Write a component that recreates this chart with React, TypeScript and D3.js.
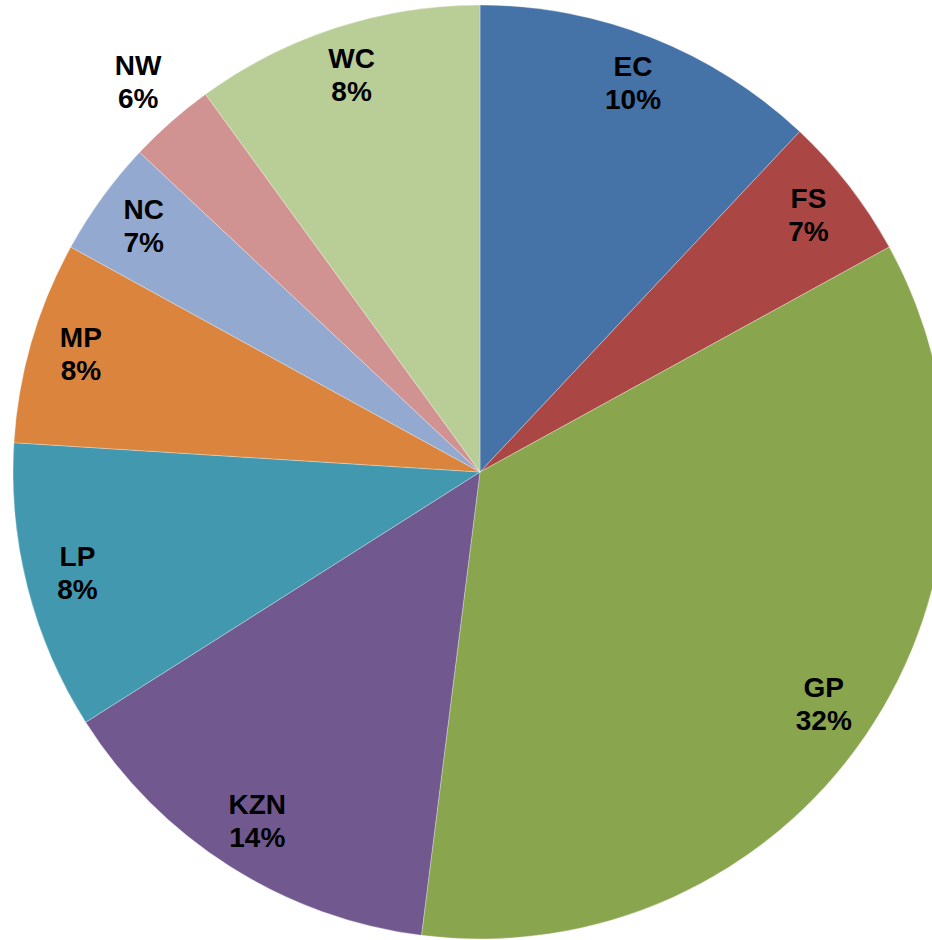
import React, { useRef, useEffect } from "react";
import * as d3 from "d3";

// provinces, slice sizes (share of the pie) and the printed label percentages
const categories = ["EC", "FS", "GP", "KZN", "LP", "MP", "NC", "NW", "WC"];
const sliceValues = [12, 5, 35, 14, 10, 7, 4, 3, 10];
const labelPercents = ["10%", "7%", "32%", "14%", "8%", "8%", "7%", "6%", "8%"];
const colors = ["#4572A7", "#AA4643", "#89A54E", "#71588F", "#4198AF", "#DB843D", "#93A9CF", "#D19392", "#B9CD96"];

const App = () => {
  const d3Ref = useRef<SVGSVGElement | null>(null);
  const width = 932;
  const height = 940;

  useEffect(() => {
    if (!d3Ref.current) return;
    const svg = d3.select(d3Ref.current);
    svg.selectAll("*").remove();

    const cx = 480;
    const cy = 472;
    const radius = 467;

    const data = categories.map((c, i) => ({ label: c, value: sliceValues[i], pct: labelPercents[i], color: colors[i] }));

    const pie = d3
      .pie<any>()
      .value((d) => d.value)
      .sort(null);

    const arc = d3.arc<any>().innerRadius(0).outerRadius(radius);

    const g = svg.append("g").attr("transform", `translate(${cx},${cy})`);

    const arcs = pie(data);

    g.selectAll(".slice")
      .data(arcs)
      .enter()
      .append("path")
      .attr("class", "slice")
      .attr("d", arc as any)
      .attr("fill", (d) => d.data.color)
      .attr("stroke", "#ffffff")
      .attr("stroke-width", 0.6)
      .attr("stroke-opacity", 0.5);

    // labels sit near the outer edge, small slices get them outside
    const labels = g
      .selectAll(".lbl")
      .data(arcs)
      .enter()
      .append("text")
      .attr("class", "lbl")
      .attr("transform", (d) => {
        const mid = (d.startAngle + d.endAngle) / 2;
        const span = ((d.endAngle - d.startAngle) * 180) / Math.PI;
        const r = span < 12 ? radius * 1.107 : radius * 0.89;
        return `translate(${Math.sin(mid) * r},${-Math.cos(mid) * r})`;
      })
      .attr("text-anchor", "middle")
      .style("font-family", "'Liberation Sans', Arial, sans-serif")
      .style("font-weight", "bold")
      .style("font-size", "28px")
      .attr("fill", "#000");

    labels
      .append("tspan")
      .attr("x", 0)
      .attr("y", -16.5)
      .attr("dominant-baseline", "middle")
      .text((d) => d.data.label);

    labels
      .append("tspan")
      .attr("x", 0)
      .attr("y", 16.5)
      .attr("dominant-baseline", "middle")
      .text((d) => d.data.pct);
  }, []);

  return (
    <svg
      ref={d3Ref}
      width={width}
      height={height}
      style={{ position: "absolute", left: 0, top: 0, background: "#fff" }}
    />
  );
};

export default App;
